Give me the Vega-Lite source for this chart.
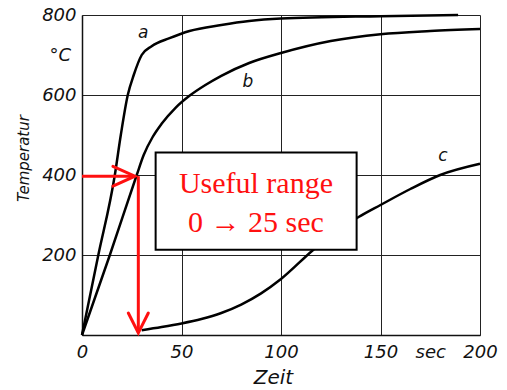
{
  "$schema": "https://vega.github.io/schema/vega-lite/v6.json",
  "width": 398,
  "height": 320,
  "autosize": {"type": "none"},
  "padding": {"left": 82, "top": 15, "right": 27, "bottom": 55},
  "background": "white",
  "config": {
    "view": {"stroke": null},
    "axis": {
      "labelFont": "DejaVu Sans",
      "labelFontStyle": "italic",
      "labelFontSize": 18,
      "labelColor": "#111",
      "labelOverlap": false,
      "labelBound": false,
      "ticks": false,
      "gridColor": "#222",
      "gridWidth": 1,
      "gridOpacity": 1,
      "domainColor": "#111",
      "domainWidth": 1.5,
      "titleFont": "DejaVu Sans",
      "titleFontStyle": "italic",
      "titleFontWeight": "normal",
      "titleColor": "#111"
    }
  },
  "datasets": {
    "curves": [
      {"curve": "a", "t": 0, "T": 0},
      {"curve": "a", "t": 8, "T": 195},
      {"curve": "a", "t": 16.5, "T": 400},
      {"curve": "a", "t": 19.5, "T": 500},
      {"curve": "a", "t": 23, "T": 600},
      {"curve": "a", "t": 26, "T": 650},
      {"curve": "a", "t": 30, "T": 700},
      {"curve": "a", "t": 35, "T": 722},
      {"curve": "a", "t": 44, "T": 742},
      {"curve": "a", "t": 54, "T": 760},
      {"curve": "a", "t": 70, "T": 775},
      {"curve": "a", "t": 84, "T": 785},
      {"curve": "a", "t": 100, "T": 791},
      {"curve": "a", "t": 150, "T": 797},
      {"curve": "a", "t": 189, "T": 800},
      {"curve": "b", "t": 0, "T": 0},
      {"curve": "b", "t": 14, "T": 200},
      {"curve": "b", "t": 27.5, "T": 400},
      {"curve": "b", "t": 31, "T": 450},
      {"curve": "b", "t": 35.5, "T": 495},
      {"curve": "b", "t": 40, "T": 528},
      {"curve": "b", "t": 47, "T": 568},
      {"curve": "b", "t": 54, "T": 598},
      {"curve": "b", "t": 62, "T": 625},
      {"curve": "b", "t": 70, "T": 648},
      {"curve": "b", "t": 84, "T": 680},
      {"curve": "b", "t": 100, "T": 705},
      {"curve": "b", "t": 125, "T": 735},
      {"curve": "b", "t": 150, "T": 752},
      {"curve": "b", "t": 175, "T": 760},
      {"curve": "b", "t": 200, "T": 765},
      {"curve": "c", "t": 30, "T": 12},
      {"curve": "c", "t": 40, "T": 20},
      {"curve": "c", "t": 50, "T": 29},
      {"curve": "c", "t": 60, "T": 40},
      {"curve": "c", "t": 70, "T": 55},
      {"curve": "c", "t": 80, "T": 76},
      {"curve": "c", "t": 90, "T": 104},
      {"curve": "c", "t": 100, "T": 140},
      {"curve": "c", "t": 116, "T": 212},
      {"curve": "c", "t": 128, "T": 260},
      {"curve": "c", "t": 139, "T": 295},
      {"curve": "c", "t": 150, "T": 325},
      {"curve": "c", "t": 165, "T": 365},
      {"curve": "c", "t": 180, "T": 400},
      {"curve": "c", "t": 200, "T": 428}
    ],
    "labels": [
      {"label": "a", "t": 30.7, "T": 755},
      {"label": "b", "t": 83.4, "T": 632},
      {"label": "c", "t": 181.4, "T": 447}
    ],
    "unit": [{"label": "°C", "t": -5.5, "T": 698}],
    "box": [{"t1": 37, "t2": 138, "T1": 213, "T2": 456}],
    "boxtext": [
      {"text": "Useful range", "t": 87.4, "T": 355},
      {"text": "0 → 25 sec", "t": 87.4, "T": 257}
    ],
    "arrows": [
      {"t": 0, "t2": 25.5, "T": 397, "T2": 397},
      {"t": 28.3, "t2": 28.3, "T": 397, "T2": 6}
    ],
    "headRight": [{"t": 26.6, "T": 397}],
    "headDown": [{"t": 28.3, "T": 5}]
  },
  "layer": [
    {
      "data": {"name": "curves"},
      "mark": {"type": "line", "interpolate": "monotone", "color": "black", "strokeWidth": 2.5},
      "encoding": {
        "x": {
          "field": "t", "type": "quantitative",
          "scale": {"domain": [0, 200], "nice": false, "zero": false},
          "axis": {
            "values": [0, 50, 100, 150, 175, 200],
            "labelExpr": "datum.value == 175 ? 'sec' : datum.label",
            "labelPadding": 8,
            "labelDx": -3,
            "labelFlush": false,
            "labelOverlap": false,
            "grid": true,
            "gridOpacity": {"condition": {"test": "datum.value === 175", "value": 0}, "value": 1},
            "title": "Zeit",
            "titleFontSize": 20,
            "titleX": 191,
            "titleY": 42,
            "titleAlign": "center",
            "titleBaseline": "middle"
          }
        },
        "y": {
          "field": "T", "type": "quantitative",
          "scale": {"domain": [0, 800], "nice": false},
          "axis": {
            "values": [0, 100, 200, 300, 400, 500, 600, 700, 800],
            "labelExpr": "datum.value == 700 ? '°C' : datum.label",
            "labelOpacity": {"condition": {"test": "datum.value == 0 || datum.value == 100 || datum.value == 300 || datum.value == 500", "value": 0}, "value": 1},
            "labelPadding": 6,
            "labelBaseline": "middle",
            "labelFlush": false,
            "labelOverlap": false,
            "grid": true,
            "title": "Temperatur",
            "titleFontSize": 15,
            "titleAngle": -90,
            "titleX": -59,
            "titleY": 143,
            "titleAlign": "center",
            "titleBaseline": "middle"
          }
        },
        "detail": {"field": "curve"}
      }
    },
    {
      "data": {"name": "labels"},
      "mark": {"type": "text", "font": "DejaVu Sans", "fontStyle": "italic", "fontSize": 17, "color": "#111"},
      "encoding": {
        "x": {"field": "t", "type": "quantitative"},
        "y": {"field": "T", "type": "quantitative"},
        "text": {"field": "label"}
      }
    },
    {
      "data": {"name": "unit"},
      "mark": {"type": "text", "font": "DejaVu Sans", "fontStyle": "italic", "fontSize": 18, "color": "#111", "align": "right", "baseline": "middle", "clip": false},
      "encoding": {
        "x": {"field": "t", "type": "quantitative"},
        "y": {"field": "T", "type": "quantitative"},
        "text": {"field": "label"}
      }
    },
    {
      "data": {"name": "box"},
      "mark": {"type": "rect", "fill": "white", "stroke": "black", "strokeWidth": 2},
      "encoding": {
        "x": {"field": "t1", "type": "quantitative"},
        "x2": {"field": "t2"},
        "y": {"field": "T1", "type": "quantitative"},
        "y2": {"field": "T2"}
      }
    },
    {
      "data": {"name": "boxtext"},
      "mark": {"type": "text", "font": "Liberation Serif", "fontSize": 30, "color": "#ff1010", "baseline": "alphabetic", "align": "center"},
      "encoding": {
        "x": {"field": "t", "type": "quantitative"},
        "y": {"field": "T", "type": "quantitative"},
        "text": {"field": "text"}
      }
    },
    {
      "data": {"name": "arrows"},
      "mark": {"type": "rule", "color": "#ff1010", "strokeWidth": 3},
      "encoding": {
        "x": {"field": "t", "type": "quantitative"},
        "x2": {"field": "t2"},
        "y": {"field": "T", "type": "quantitative"},
        "y2": {"field": "T2"}
      }
    },
    {
      "data": {"name": "headRight"},
      "mark": {"type": "point", "shape": "M-1,-0.45L0,0L-1,0.45", "filled": false, "stroke": "#ff1010", "strokeWidth": 3, "size": 1936, "opacity": 1, "strokeCap": "round"},
      "encoding": {
        "x": {"field": "t", "type": "quantitative"},
        "y": {"field": "T", "type": "quantitative"}
      }
    },
    {
      "data": {"name": "headDown"},
      "mark": {"type": "point", "shape": "M-0.5,-1L0,0L0.5,-1", "filled": false, "stroke": "#ff1010", "strokeWidth": 3, "size": 1600, "opacity": 1, "strokeCap": "round"},
      "encoding": {
        "x": {"field": "t", "type": "quantitative"},
        "y": {"field": "T", "type": "quantitative"}
      }
    }
  ]
}
